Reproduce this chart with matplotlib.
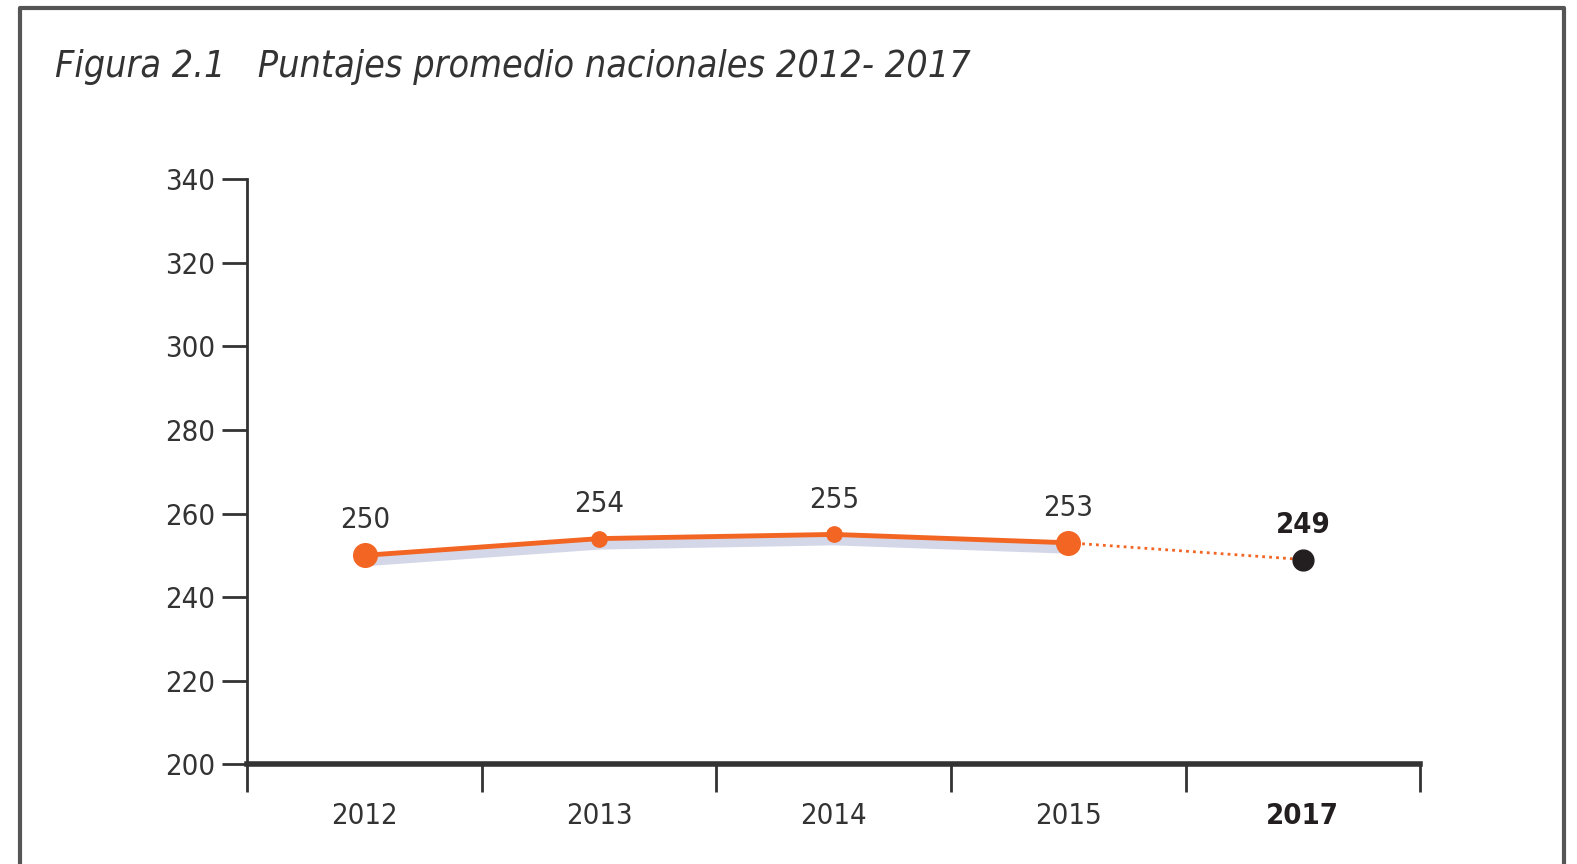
import matplotlib
matplotlib.use("Agg")
import matplotlib.pyplot as plt
from matplotlib.lines import Line2D

plt.rcParams['font.family'] = ['DejaVu Sans']
plt.rcParams['font.stretch'] = 'condensed'

years = ['2012', '2013', '2014', '2015', '2017']
scores = [250, 254, 255, 253, 249]
yticks = [200, 220, 240, 260, 280, 300, 320, 340]

orange = '#f26522'
dark = '#231f20'
grey = '#333333'

fig = plt.figure(figsize=(15.77, 8.64), dpi=100)
ax = fig.add_axes([0.1569, 0.1153, 0.7436, 0.6775])

x = list(range(len(years)))

# faint lavender band under the solid part
ax.fill_between(x[:4], [s - 2.5 for s in scores[:4]], scores[:4],
                color='#c9cde3', alpha=0.8, lw=0, zorder=2)
ax.plot(x[:4], scores[:4], color=orange, lw=3.5, zorder=3)
ax.plot(x[3:], scores[3:], color=orange, lw=2, ls=(0, (1, 1.5)), zorder=3)

msize = [17, 11, 11, 17]
for i in range(4):
    ax.plot(x[i], scores[i], 'o', color=orange, ms=msize[i], zorder=4)
ax.plot(x[4], scores[4], 'o', color=dark, ms=15, zorder=4)

for i, (xi, s) in enumerate(zip(x, scores)):
    bold = i == len(x) - 1
    ax.text(xi, s + 5, str(s), ha='center', va='bottom', fontsize=21,
            color=dark if bold else grey,
            fontweight='bold' if bold else 'normal')

ax.set_xlim(-0.5, 4.5)
ax.set_ylim(200, 340)
ax.set_yticks(yticks)
ax.set_yticklabels([str(v) for v in yticks], fontsize=21, color=grey)
ax.set_xticks([i - 0.5 for i in range(len(years) + 1)])
ax.set_xticklabels([])
ax.set_xticks(x, minor=True)
ax.set_xticklabels(years, minor=True, fontsize=21, color=grey)
ax.tick_params(axis='x', which='minor', length=0, pad=27)
ax.get_xticklabels(minor=True)[-1].set_fontweight('bold')
ax.get_xticklabels(minor=True)[-1].set_color(dark)
ax.tick_params(axis='x', which='major', length=20, width=2, color=grey)
ax.tick_params(axis='y', length=18, width=2, color=grey, pad=5)

for side in ['top', 'right']:
    ax.spines[side].set_visible(False)
ax.spines['left'].set_linewidth(2)
ax.spines['left'].set_color(grey)
ax.spines['bottom'].set_linewidth(4)
ax.spines['bottom'].set_color(grey)

# outer frame
fig.add_artist(Line2D([0.0128, 0.0128, 0.9918, 0.9918], [0.0, 0.9905, 0.9905, 0.0],
                      transform=fig.transFigure, color='#555555', lw=3))

fig.text(0.035, 0.923, 'Figura 2.1   Puntajes promedio nacionales 2012- 2017',
         fontsize=27, style='italic', color=grey, va='center', ha='left')

fig.savefig('out.png', dpi=100)
